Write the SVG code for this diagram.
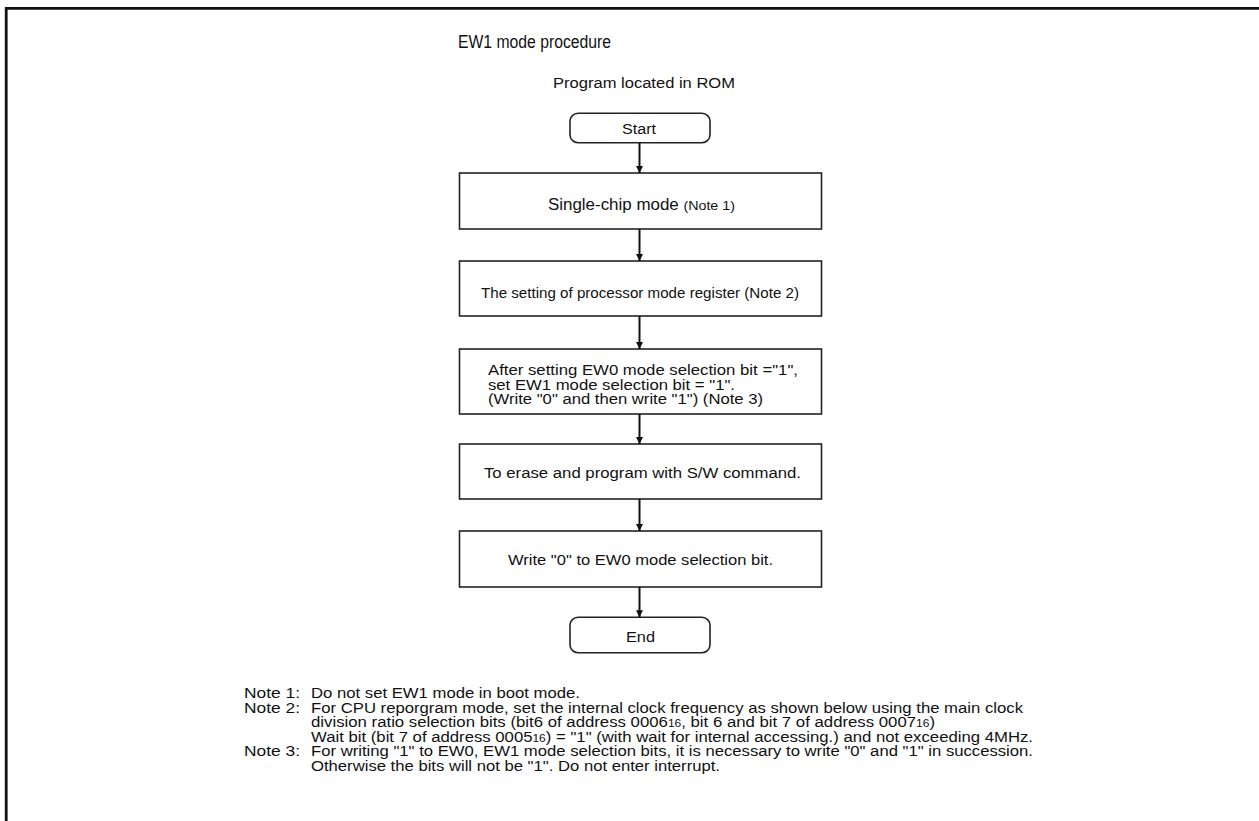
<svg xmlns="http://www.w3.org/2000/svg" width="1259" height="821" viewBox="0 0 1259 821">
<defs>
<style>
.t{font-family:"Liberation Sans",Arial,sans-serif;fill:#111;}
.box{fill:#fff;stroke:#222;stroke-width:1.6;}
.con{stroke:#111;stroke-width:2;fill:none;}
.sub{font-size:10px;}
.nt{font-size:14px;}
</style>
<marker id="ah" markerUnits="userSpaceOnUse" markerWidth="8" markerHeight="8" refX="7" refY="3.5" orient="auto">
<path d="M0,0 L7,3.5 L0,7 z" fill="#111"/>
</marker>
</defs>
<rect width="1259" height="821" fill="#fff"/>
<path d="M6.2,821 V8.4 H1259" fill="none" stroke="#111" stroke-width="2.8"/>
<g id="title">
<text class="t" x="458" y="47.5" font-size="18" textLength="153" lengthAdjust="spacingAndGlyphs">EW1 mode procedure</text>
<text class="t" x="553" y="88" font-size="15.5" textLength="182" lengthAdjust="spacingAndGlyphs">Program located in ROM</text>
</g>
<g id="start">
<rect class="box" x="570" y="113.3" width="140" height="29.4" rx="8"/>
<text class="t" x="622" y="134" font-size="15.5" textLength="34" lengthAdjust="spacingAndGlyphs">Start</text>
</g>
<g id="n1">
<rect class="box" x="459.5" y="173" width="362" height="56"/>
<text class="t" x="548" y="210" font-size="16" textLength="187" lengthAdjust="spacingAndGlyphs">Single-chip mode <tspan font-size="13.5">(Note 1)</tspan></text>
</g>
<g id="n2">
<rect class="box" x="459.5" y="261" width="362" height="55"/>
<text class="t" x="481" y="298" font-size="15" textLength="318" lengthAdjust="spacingAndGlyphs">The setting of processor mode register (Note 2)</text>
</g>
<g id="n3">
<rect class="box" x="459.5" y="349" width="362" height="65"/>
<text class="t" x="488" y="375" font-size="14" textLength="310" lengthAdjust="spacingAndGlyphs">After setting EW0 mode selection bit ="1",</text>
<text class="t" x="488" y="389.5" font-size="14" textLength="247" lengthAdjust="spacingAndGlyphs">set EW1 mode selection bit = "1".</text>
<text class="t" x="488" y="404" font-size="14" textLength="275" lengthAdjust="spacingAndGlyphs">(Write "0" and then write "1") (Note 3)</text>
</g>
<g id="n4">
<rect class="box" x="459.5" y="444" width="362" height="55"/>
<text class="t" x="484" y="478" font-size="15.5" textLength="317" lengthAdjust="spacingAndGlyphs">To erase and program with S/W command.</text>
</g>
<g id="n5">
<rect class="box" x="459.5" y="531" width="362" height="56"/>
<text class="t" x="508" y="565" font-size="15.5" textLength="265" lengthAdjust="spacingAndGlyphs">Write "0" to EW0 mode selection bit.</text>
</g>
<g id="end">
<rect class="box" x="570" y="617.3" width="140" height="35.4" rx="8"/>
<text class="t" x="626" y="642" font-size="15.5" textLength="29" lengthAdjust="spacingAndGlyphs">End</text>
</g>
<g id="connectors">
<line class="con" x1="639.5" y1="142.7" x2="639.5" y2="173" marker-end="url(#ah)"/>
<line class="con" x1="639.5" y1="229" x2="639.5" y2="261" marker-end="url(#ah)"/>
<line class="con" x1="639.5" y1="316" x2="639.5" y2="349" marker-end="url(#ah)"/>
<line class="con" x1="639.5" y1="414" x2="639.5" y2="444" marker-end="url(#ah)"/>
<line class="con" x1="639.5" y1="499" x2="639.5" y2="531" marker-end="url(#ah)"/>
<line class="con" x1="639.5" y1="587" x2="639.5" y2="617.3" marker-end="url(#ah)"/>
</g>
<g id="notes">
<text class="t nt" x="244" y="698" textLength="56" lengthAdjust="spacingAndGlyphs">Note 1:</text>
<text class="t nt" x="311" y="698" textLength="269" lengthAdjust="spacingAndGlyphs">Do not set EW1 mode in boot mode.</text>
<text class="t nt" x="244" y="712.5" textLength="56" lengthAdjust="spacingAndGlyphs">Note 2:</text>
<text class="t nt" x="311" y="712.5" textLength="712" lengthAdjust="spacingAndGlyphs">For CPU reporgram mode, set the internal clock frequency as shown below using the main clock</text>
<text class="t nt" x="311" y="727" textLength="624" lengthAdjust="spacingAndGlyphs">division ratio selection bits (bit6 of address 0006<tspan class="sub">16</tspan>, bit 6 and bit 7 of address 0007<tspan class="sub">16</tspan>)</text>
<text class="t nt" x="311" y="741.5" textLength="722" lengthAdjust="spacingAndGlyphs">Wait bit (bit 7 of address 0005<tspan class="sub">16</tspan>) = "1" (with wait for internal accessing.) and not exceeding 4MHz.</text>
<text class="t nt" x="244" y="756" textLength="56" lengthAdjust="spacingAndGlyphs">Note 3:</text>
<text class="t nt" x="311" y="756" textLength="722" lengthAdjust="spacingAndGlyphs">For writing "1" to EW0, EW1 mode selection bits, it is necessary to write "0" and "1" in succession.</text>
<text class="t nt" x="311" y="770.5" textLength="409" lengthAdjust="spacingAndGlyphs">Otherwise the bits will not be "1". Do not enter interrupt.</text>
</g>
</svg>
